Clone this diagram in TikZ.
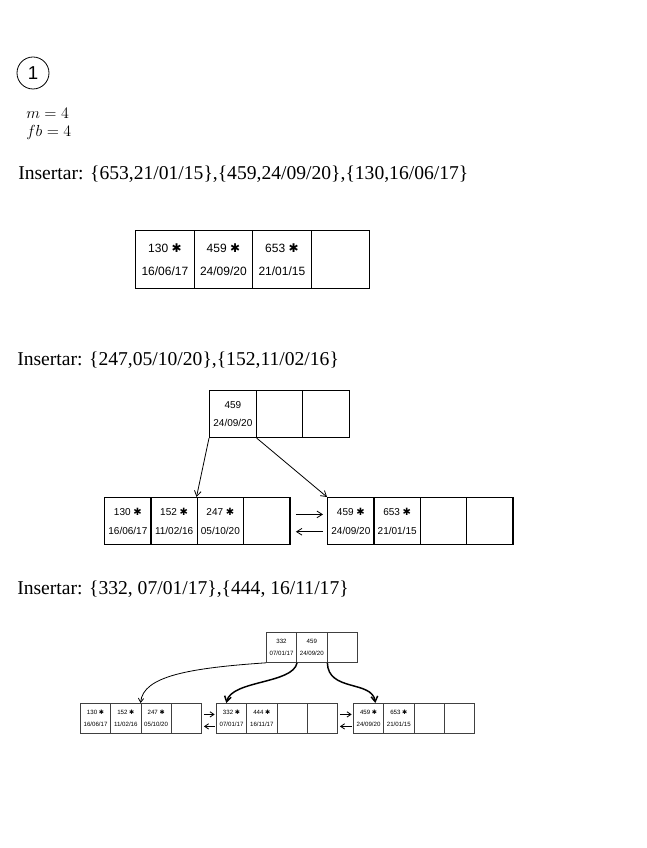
\documentclass[tikz,border=0pt]{standalone}
\usepackage{fontspec}
\setmainfont{Liberation Serif}
\newfontfamily\hand{Liberation Sans}
\newfontfamily\symf{DejaVu Sans}
\newcommand\hst{{\symf ✱}}
\usetikzlibrary{calc,arrows.meta}
\begin{document}
\begin{tikzpicture}[x=0.75pt,y=-0.75pt,
  insline/.style={anchor=west,font=\fontsize{14.7}{16}\selectfont,inner sep=0pt},
  cellA/.style={draw,line width=0.9pt,anchor=north west,inner sep=0pt,minimum width=43.9pt,minimum height=43.5pt,align=center,font=\hand\fontsize{9}{17}\selectfont},
  cellB/.style={draw,line width=0.9pt,anchor=north west,inner sep=0pt,minimum width=34.9pt,minimum height=35.2pt,align=center,font=\hand\fontsize{7.5}{14}\selectfont},
  cellC/.style={draw=black!75,line width=0.6pt,anchor=north west,inner sep=0pt,minimum width=22.7pt,minimum height=22.5pt,align=center,font=\hand\fontsize{4.6}{8.5}\selectfont},
  arr/.style={-{Straight Barb[length=4pt,width=5pt]},line width=0.6pt},
  arrC/.style={-{Straight Barb[length=3pt,width=4pt]},line width=0.6pt},
  arrT/.style={-{Straight Barb[length=4pt,width=5pt]},line width=1.1pt}
]
\path[use as bounding box] (0,0) rectangle (646,848);

% header
\node[circle,draw,line width=0.6pt,minimum size=24pt,inner sep=0pt,font=\hand\fontsize{14}{16}\selectfont] (num) at (33,73) {1};
\node[anchor=west,inner sep=0pt,font=\fontsize{13}{15}\selectfont] (m) at (26,113) {$m=4$};
\node[anchor=west,inner sep=0pt,font=\fontsize{13}{15}\selectfont] (fb) at (26,133) {$fb=4$};

% section 1
\node[insline] (ins1) at (18,174) {Insertar: \{653,21/01/15\},\{459,24/09/20\},\{130,16/06/17\}};
\node[cellA] (a1) at (135,230) {130 \hst\\16/06/17};
\node[cellA] (a2) at (193.5,230) {459 \hst\\24/09/20};
\node[cellA] (a3) at (252,230) {653 \hst\\21/01/15};
\node[cellA] (a4) at (310.5,230) {};

% section 2
\node[insline] (ins2) at (17,360) {Insertar: \{247,05/10/20\},\{152,11/02/16\}};
\node[cellB] (r1) at (209,390) {459\\24/09/20};
\node[cellB] (r2) at (255.5,390) {};
\node[cellB] (r3) at (302,390) {};

\node[cellB] (L1) at (104,497) {130 \hst\\16/06/17};
\node[cellB] (L2) at (150.3,497) {152 \hst\\11/02/16};
\node[cellB] (L3) at (196.5,497) {247 \hst\\05/10/20};
\node[cellB] (L4) at (242.8,497) {};
\node[cellB] (R1) at (327,497) {459 \hst\\24/09/20};
\node[cellB] (R2) at (373.3,497) {653 \hst\\21/01/15};
\node[cellB] (R3) at (419.5,497) {};
\node[cellB] (R4) at (465.8,497) {};

\draw[arr] (r1.south west) -- (L3.north west);
\draw[arr] (r1.south east) -- (R1.north west);
\draw[arr] ([xshift=4pt,yshift=5pt]L4.east) -- ([xshift=-3pt,yshift=5pt]R1.west);
\draw[arr] ([xshift=-3pt,yshift=-8pt]R1.west) -- ([xshift=4pt,yshift=-8pt]L4.east);

% section 3
\node[insline] (ins3) at (17,589) {Insertar: \{332, 07/01/17\},\{444, 16/11/17\}};
\node[cellC] (s1) at (266,632) {332\\07/01/17};
\node[cellC] (s2) at (296.3,632) {459\\24/09/20};
\node[cellC] (s3) at (326.6,632) {};

\node[cellC] (A1) at (80,703) {130 \hst\\16/06/17};
\node[cellC] (A2) at (110.3,703) {152 \hst\\11/02/16};
\node[cellC] (A3) at (140.6,703) {247 \hst\\05/10/20};
\node[cellC] (A4) at (170.9,703) {};
\node[cellC] (B1) at (216,703) {332 \hst\\07/01/17};
\node[cellC] (B2) at (246.3,703) {444 \hst\\16/11/17};
\node[cellC] (B3) at (276.6,703) {};
\node[cellC] (B4) at (306.9,703) {};
\node[cellC] (C1) at (353,703) {459 \hst\\24/09/20};
\node[cellC] (C2) at (383.3,703) {653 \hst\\21/01/15};
\node[cellC] (C3) at (413.6,703) {};
\node[cellC] (C4) at (443.9,703) {};

\draw[arrC] (s1.south west) .. controls (190,668) and (143,676) .. (A3.north west);
\draw[arrT] (s1.south east) .. controls (293,684) and (232,680) .. ($(B1.north west)!0.33!(B1.north east)$);
\draw[arrT] (s2.south east) .. controls (328,692) and (372,680) .. ($(C1.north west)!0.72!(C1.north east)$);

\draw[arrC] ([xshift=1.5pt,yshift=3pt]A4.east) -- ([xshift=-1pt,yshift=3pt]B1.west);
\draw[arrC] ([xshift=-1pt,yshift=-6pt]B1.west) -- ([xshift=1.5pt,yshift=-6pt]A4.east);
\draw[arrC] ([xshift=1.5pt,yshift=3pt]B4.east) -- ([xshift=-1pt,yshift=3pt]C1.west);
\draw[arrC] ([xshift=-1pt,yshift=-6pt]C1.west) -- ([xshift=1.5pt,yshift=-6pt]B4.east);
\end{tikzpicture}
\end{document}
